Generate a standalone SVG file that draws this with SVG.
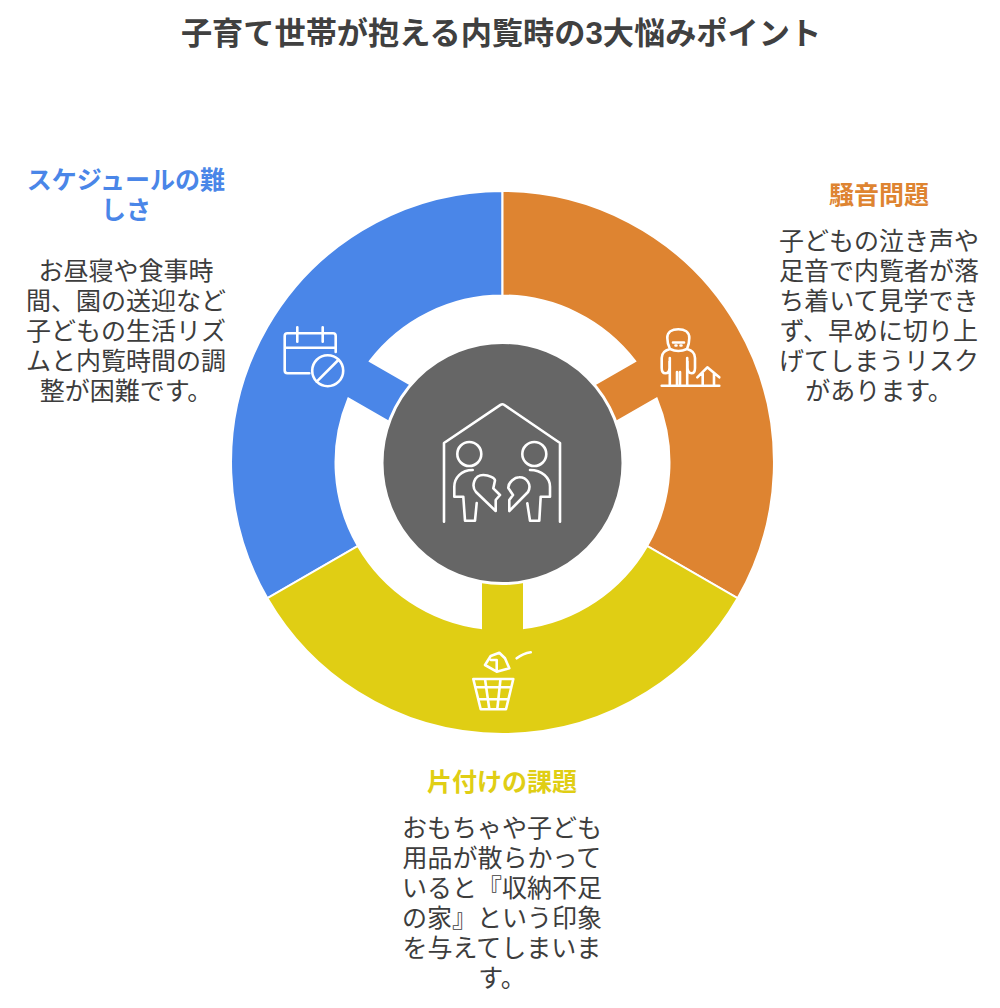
<svg xmlns="http://www.w3.org/2000/svg" width="1000" height="1008" viewBox="0 0 1000 1008">
<style>
text{font-family:"Liberation Sans","Noto Sans CJK JP",sans-serif;text-anchor:middle}
.t{font-size:31.2px;font-weight:700;fill:#404040}
.h{font-size:25px;font-weight:700}
.b{font-size:25px;fill:#3d3d3d}
.seg{stroke:#fff;stroke-width:2}
.i{fill:none;stroke:#fff;stroke-width:2.6;stroke-linecap:round;stroke-linejoin:round}
</style>
<defs>
<path id="sector" d="M-235.1 -135.75A271.5 271.5 0 0 1 235.1 -135.75L144.6 -83.5A167 167 0 0 0 21.5 -165.6V-116H-21.5V-165.6A167 167 0 0 0 -144.6 -83.5Z"/>
</defs>
<rect width="1000" height="1008" fill="#fff"/>
<text class="t" x="501" y="44">子育て世帯が抱える内覧時の3大悩みポイント</text>
<g id="node-schedule">
<use href="#sector" class="seg" fill="#4A86E8" transform="translate(502.5 462.5) rotate(-60)"/>
<path class="i" d="M335.7 352V336a2.7 2.7 0 0 0-2.7-2.7H287.4a2.7 2.7 0 0 0-2.7 2.7V370.6a2.7 2.7 0 0 0 2.7 2.7H309.3M284.7 347.7H335.7M297.3 327.3V341.7M322.7 327.3V341.7M316.7 381.7L338.3 360"/>
<circle class="i" cx="327.7" cy="370.7" r="15.5"/>
<text class="h" fill="#4A86E8" x="126" y="189">スケジュールの難</text>
<text class="h" fill="#4A86E8" x="126" y="219">しさ</text>
<text class="b" x="126" y="280">お昼寝や食事時</text>
<text class="b" x="126" y="310">間、園の送迎など</text>
<text class="b" x="126" y="340">子どもの生活リズ</text>
<text class="b" x="126" y="370">ムと内覧時間の調</text>
<text class="b" x="126" y="400">整が困難です。</text>
</g>
<g id="node-noise">
<use href="#sector" class="seg" fill="#DE8431" transform="translate(502.5 462.5) rotate(60)"/>
<path class="i" d="M661.7 385.7H719.3M670 349Q661.7 351 661.7 358V368Q661.7 373.3 665.5 373.3T669.5 368V361M687 349Q695 351 695 358V368Q695 373.3 691.5 373.3T687.5 368V361M670 349Q667.3 344 667.3 338C667.3 332 672 329.3 678.3 329.3S689.3 332 689.3 338Q689.3 344 687 349M670 349Q678.3 353 687 349M669.8 358V385.7M687.2 358V385.7M677 372V385.7M680 372V385.7M697.3 377.3L707.3 367.3L719.3 377.3M702.7 373.5V385.7M714 373.5V385.7"/>
<path class="i" stroke-width="2" d="M673 342.5H684M675.5 345.5H676.5M680.5 345.5H681.5"/>
<text class="h" fill="#DE8431" x="879" y="204">騒音問題</text>
<text class="b" x="879" y="250">子どもの泣き声や</text>
<text class="b" x="879" y="280">足音で内覧者が落</text>
<text class="b" x="879" y="310">ち着いて見学でき</text>
<text class="b" x="879" y="340">ず、早めに切り上</text>
<text class="b" x="879" y="370">げてしまうリスク</text>
<text class="b" x="879" y="400">があります。</text>
</g>
<g id="node-tidy">
<use href="#sector" class="seg" fill="#E0CE14" transform="translate(502.5 462.5) rotate(180)"/>
<path class="i" d="M473.3 679H513.3L506 709.3H480.7ZM475.5 687.3H511.3M478.5 699.3H508.5M485 679L489.3 709M500.5 679L497.3 709M485 665L490.7 656L499.3 652.7L505 658.3L509.3 668.3L496.7 671.7L485 665ZM496.7 671V660H491M516.7 658.3Q523 653.5 530.7 652.3"/>
<text class="h" fill="#E0CE14" x="502" y="791">片付けの課題</text>
<text class="b" x="502" y="837">おもちゃや子ども</text>
<text class="b" x="502" y="867">用品が散らかって</text>
<text class="b" x="502" y="897">いると『収納不足</text>
<text class="b" x="502" y="927">の家』という印象</text>
<text class="b" x="502" y="957">を与えてしまいま</text>
<text class="b" x="502" y="987">す。</text>
</g>
<g id="node-center">
<circle cx="502.5" cy="463" r="120.5" fill="#666" stroke="#fff" stroke-width="3"/>
<path class="i" d="M444 521.7V443L500.5 404.8Q502.3 403.6 504 404.8L560 443V521.7M472.7 470C461 470 454.3 478 454.3 486.7V496.7H463.3L465 520.7H475L476.7 503M530 470C542 470 550 478 550 486.7V496.7H540.7L539.3 520.7H530L527.3 503.3M495.7 511L476 492C471 486 474 475 483.3 475C489 475 495 478 495 480.5L493.3 488.3L500 495L495.7 500ZM509.3 511V500L513 495L508.3 488C508 482 515 477.3 519 477.3C527 477 532 485 528 492Z"/>
<circle class="i" cx="469.3" cy="454" r="12"/>
<circle class="i" cx="534.3" cy="454" r="12"/>
</g>
<g id="connectors"></g>
</svg>
